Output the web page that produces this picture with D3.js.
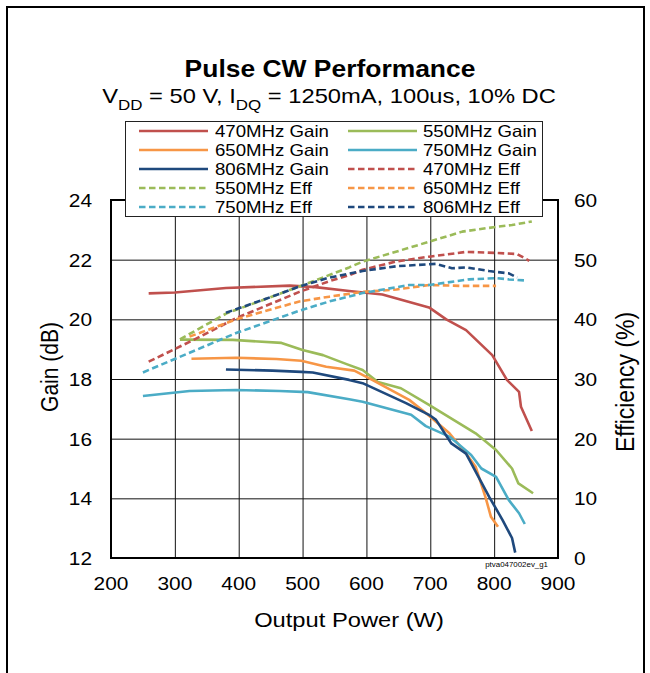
<!DOCTYPE html>
<html>
<head>
<meta charset="utf-8">
<script src="https://cdn.jsdelivr.net/npm/d3@7/dist/d3.min.js"></script>
<style>
  html, body { margin: 0; padding: 0; background: #fff; }
  svg { display: block; }
  text { font-family: "Liberation Sans", Arial, sans-serif; fill: #000; }
</style>
</head>
<body>
<svg id="chart" width="650" height="673"></svg>
<script>
// ---------- data ----------
const powerTicks = [200, 300, 400, 500, 600, 700, 800, 900];
const gainTicks = [12, 14, 16, 18, 20, 22, 24];
const effTicks = [0, 10, 20, 30, 40, 50, 60];

const gain470 = [[259,20.87],[300,20.9],[380,21.05],[480,21.13],[520,21.08],[573,20.95],[625,20.83],[698,20.4],[725,20.0],[756,19.64],[797,18.8],[820,17.97],[839,17.57],[842,17.07],[859,16.26]];
const gain550 = [[308,19.32],[391,19.31],[467,19.21],[500,18.97],[532,18.8],[570,18.49],[594,18.3],[618,17.9],[654,17.69],[698,17.13],[771,16.18],[803,15.62],[828,15.0],[838,14.5],[861,14.17]];
const gain650 = [[326,18.68],[396,18.71],[459,18.67],[498,18.61],[537,18.41],[581,18.28],[609,17.97],[667,17.3],[693,16.86],[730,16.18],[756,15.5],[771,15.06],[787,14.0],[795,13.38],[806,13.05]];
const gain750 = [[250,17.43],[323,17.6],[396,17.63],[464,17.6],[508,17.56],[573,17.32],[594,17.24],[670,16.8],[693,16.42],[730,16.07],[764,15.45],[780,15.0],[803,14.72],[823,13.94],[839,13.5],[848,13.14]];
const gain806 = [[380,18.32],[453,18.28],[498,18.24],[516,18.22],[573,17.97],[594,17.86],[662,17.19],[698,16.8],[709,16.63],[733,15.84],[756,15.5],[792,14.06],[813,13.28],[828,12.67],[833,12.18]];

const eff470 = [[259,32.9],[334,36.8],[396,40.2],[495,44.6],[542,46.4],[573,47.4],[594,48.3],[647,49.7],[698,50.5],[756,51.3],[787,51.2],[836,50.95],[855,49.8]];
const eff550 = [[308,36.65],[381,41.0],[495,45.5],[573,48.7],[594,49.66],[698,53.0],[750,54.7],[803,55.5],[828,55.8],[859,56.4]];
const eff650 = [[323,37.1],[396,40.0],[495,43.0],[542,43.8],[594,44.6],[647,45.0],[698,45.75],[750,45.6],[766,45.6],[803,45.6]];
const eff750 = [[250,31.1],[396,37.7],[495,41.45],[542,43.0],[594,44.4],[667,45.75],[698,45.75],[761,46.7],[803,46.9],[823,46.7],[850,46.5]];
const eff806 = [[380,41.1],[444,43.5],[495,45.5],[542,47.0],[594,48.1],[647,48.9],[709,49.3],[734,48.55],[756,48.7],[792,48.1],[823,47.7],[836,47.0]];

const seriesNames = ["470MHz Gain","550MHz Gain","650MHz Gain","750MHz Gain","806MHz Gain","470MHz Eff","550MHz Eff","650MHz Eff","750MHz Eff","806MHz Eff"];
const seriesData = [gain470, gain550, gain650, gain750, gain806, eff470, eff550, eff650, eff750, eff806];
const seriesAxis = ["gain","gain","gain","gain","gain","eff","eff","eff","eff","eff"];
const seriesColors = ["#C0504D","#9BBB59","#F79646","#4BACC6","#1F497D","#C0504D","#9BBB59","#F79646","#4BACC6","#1F497D"];
// legend order: row-major, 2 columns
const legendOrder = ["470MHz Gain","550MHz Gain","650MHz Gain","750MHz Gain","806MHz Gain","470MHz Eff","550MHz Eff","650MHz Eff","750MHz Eff","806MHz Eff"];

// ---------- layout ----------
const SX = 1.13; // horizontal text stretch of the original
const svg = d3.select("#chart");
const plot = { left: 111, right: 558, top: 200, bottom: 558 };

const x = d3.scaleLinear().domain([200, 900]).range([plot.left, plot.right]);
const yG = d3.scaleLinear().domain([12, 24]).range([plot.bottom, plot.top]);
const yE = d3.scaleLinear().domain([0, 60]).range([plot.bottom, plot.top]);

function stext(g, str, px, py, size, anchor, weight) {
  return g.append("text")
    .attr("transform", `translate(${px},${py}) scale(${SX},1)`)
    .attr("text-anchor", anchor || "start")
    .attr("font-size", size)
    .attr("font-weight", weight || "normal")
    .text(str);
}

// outer frame
svg.append("rect").attr("x", 7).attr("y", 7).attr("width", 637).attr("height", 720)
  .attr("fill", "none").attr("stroke", "#000").attr("stroke-width", 2);

// gridlines via axes
const gx = svg.append("g").attr("transform", `translate(0,${plot.bottom})`)
  .call(d3.axisBottom(x).tickValues(powerTicks).tickSize(-(plot.bottom - plot.top)).tickFormat(""));
gx.select(".domain").remove();
gx.selectAll("line").attr("stroke", "#111").attr("stroke-width", 1);

const gy = svg.append("g").attr("transform", `translate(${plot.left},0)`)
  .call(d3.axisLeft(yG).tickValues(gainTicks).tickSize(-(plot.right - plot.left)).tickFormat(""));
gy.select(".domain").remove();
gy.selectAll("line").attr("stroke", "#111").attr("stroke-width", 1);

// plot frame
svg.append("rect").attr("x", plot.left).attr("y", plot.top)
  .attr("width", plot.right - plot.left).attr("height", plot.bottom - plot.top)
  .attr("fill", "none").attr("stroke", "#000").attr("stroke-width", 2);

// tick labels
const labels = svg.append("g");
powerTicks.forEach(t => stext(labels, String(t), x(t), 590, 18.5, "middle"));
gainTicks.forEach(t => stext(labels, String(t), 92, yG(t) + 7, 18.5, "end"));
effTicks.forEach(t => stext(labels, String(t), 574, yE(t) + 7, 18.5, "start"));

// axis titles
stext(svg, "Output Power (W)", 349, 627, 21, "middle");
svg.append("text")
  .attr("transform", `translate(58,367) rotate(-90) scale(1,${SX})`)
  .attr("text-anchor", "middle").attr("font-size", 21).text("Gain (dB)");
svg.append("text")
  .attr("transform", `translate(634,382) rotate(-90) scale(1,${SX})`)
  .attr("text-anchor", "middle").attr("font-size", 23).text("Efficiency (%)");

// title
stext(svg, "Pulse CW Performance", 330, 77, 23.4, "middle", "bold");
const sub = svg.append("text")
  .attr("transform", `translate(329,103) scale(${SX},1)`)
  .attr("text-anchor", "middle").attr("font-size", 21);
sub.append("tspan").text("V");
sub.append("tspan").attr("font-size", 15).attr("dy", 7).text("DD");
sub.append("tspan").attr("dy", -7).text(" = 50 V, I");
sub.append("tspan").attr("font-size", 15).attr("dy", 7).text("DQ");
sub.append("tspan").attr("dy", -7).text(" = 1250mA, 100us, 10% DC");

// curves
const curves = svg.append("g");
seriesData.forEach((data, i) => {
  const yScale = seriesAxis[i] === "gain" ? yG : yE;
  const line = d3.line().x(d => x(d[0])).y(d => yScale(d[1]));
  curves.append("path")
    .datum(data)
    .attr("d", line)
    .attr("fill", "none")
    .attr("stroke", seriesColors[i])
    .attr("stroke-width", 2.6)
    .attr("stroke-linejoin", "round")
    .attr("stroke-dasharray", seriesAxis[i] === "eff" ? "6.5,3.5" : null);
});

// image id text
stext(svg, "ptva047002ev_g1", 548, 567, 7, "end");

// legend
const lg = svg.append("g");
lg.append("rect").attr("x", 125.5).attr("y", 121.5).attr("width", 417).attr("height", 95)
  .attr("fill", "#fff").attr("stroke", "#222").attr("stroke-width", 1);
const colLineX = [139, 348];
const colLineW = 69;
const colTextX = [215, 423];
legendOrder.forEach((name, k) => {
  const i = seriesNames.indexOf(name);
  const col = k % 2, row = Math.floor(k / 2);
  const cy = 131 + row * 19;
  lg.append("line")
    .attr("x1", colLineX[col]).attr("x2", colLineX[col] + colLineW)
    .attr("y1", cy).attr("y2", cy)
    .attr("stroke", seriesColors[i]).attr("stroke-width", 2.6)
    .attr("stroke-dasharray", seriesAxis[i] === "eff" ? "6.5,3.5" : null);
  stext(lg, name, colTextX[col], cy + 6, 16.5, "start");
});
</script>
</body>
</html>
